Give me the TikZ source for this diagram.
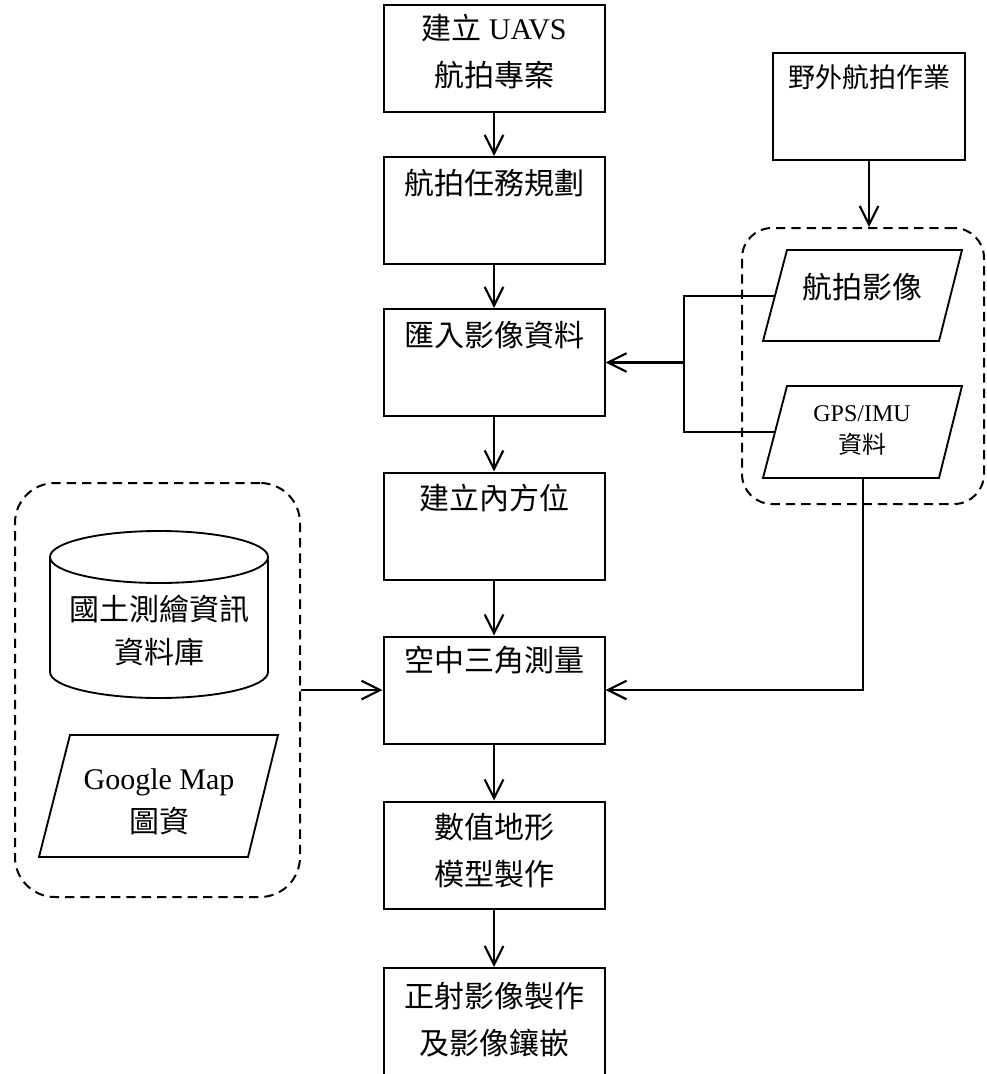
\documentclass[tikz,border=0pt]{standalone}
\usepackage{fontspec}
\setmainfont{Liberation Serif}
\newfontfamily\cjk{Noto Sans CJK TC}
\usetikzlibrary{arrows.meta}
\begin{document}
\begin{tikzpicture}[x=0.75pt,y=-0.75pt,
  box/.style={draw, line width=1.5pt, minimum width=221*0.75pt, minimum height=107*0.75pt, inner sep=0pt},
  arr/.style={line width=1.6pt, -{Straight Barb[length=14pt,width=14pt,line width=1.6pt]}},
  conn/.style={line width=1.6pt},
  grp/.style={draw, dash pattern=on 7pt off 4.5pt, line width=1.5pt, inner sep=0pt},
  shp/.style={draw, line width=1.4pt},
  big/.style={font=\fontsize{22.5pt}{35.25pt}\selectfont, align=center, inner sep=0pt},
  mid/.style={font=\fontsize{22.5pt}{32.25pt}\selectfont, align=center, inner sep=0pt},
  sml/.style={font=\fontsize{18pt}{24pt}\selectfont, align=center, inner sep=0pt},
  fld/.style={font=\fontsize{20.25pt}{30pt}\selectfont, align=center, inner sep=0pt}]
\useasboundingbox (0,0) rectangle (987,1074);

% main column boxes
\node[box] (b1) at (494,58.5) {};
\node[box] (b2) at (494,210.5) {};
\node[box] (b3) at (494,362.5) {};
\node[box] (b4) at (494,526) {};
\node[box] (b5) at (494,690) {};
\node[box] (b6) at (494,855) {};
\node[box, minimum height=112*0.75pt] (b7) at (494,1024) {};

\node[big] (t1) at (494,51.5) {{\cjk 建立} UAVS\\{\cjk 航拍專案}};
\node[big] (t2) at (494,183) {\cjk 航拍任務規劃};
\node[big] (t3) at (494,335) {\cjk 匯入影像資料};
\node[big] (t4) at (494,498) {\cjk 建立內方位};
\node[big] (t5) at (494,660) {\cjk 空中三角測量};
\node[big] (t6) at (494,850.5) {{\cjk 數值地形}\\{\cjk 模型製作}};
\node[big] (t7) at (494,1019.5) {{\cjk 正射影像製作}\\{\cjk 及影像鑲嵌}};

\draw[arr] (b1.south) -- (b2.north);
\draw[arr] (b2.south) -- (b3.north);
\draw[arr] (b3.south) -- (b4.north);
\draw[arr] (b4.south) -- (b5.north);
\draw[arr] (b5.south) -- (b6.north);
\draw[arr] (b6.south) -- (b7.north);

% right side
\node[draw, line width=1.5pt, minimum width=192*0.75pt, minimum height=107*0.75pt, inner sep=0pt] (yw) at (869,106.5) {};
\node[fld] (tyw) at (869,77) {\cjk 野外航拍作業};

\node[grp, rounded corners=22.5pt, minimum width=242*0.75pt, minimum height=276*0.75pt] (rg) at (863,366) {};
\draw[arr] (yw.south) -- (yw.south |- rg.north);

\draw[shp] (763,341) -- (939,341) -- (962,250) -- (787,250) -- cycle;
\node[big] (tp1) at (862,287) {\cjk 航拍影像};
\draw[shp] (763,478) -- (939,478) -- (962,386) -- (787,386) -- cycle;
\node[sml] (tp2) at (862,431) {GPS/IMU\\{\cjk 資料}};

\coordinate (p1w) at (775,296);
\coordinate (p2w) at (775,432);
\coordinate (p2s) at (863,478);
\coordinate (bus) at (684,363);
\draw[conn] (p1w) -- (p1w -| bus) -- (p2w -| bus) -- (p2w);
\draw[arr] (bus |- b3.east) -- (b3.east);
\draw[arr] (p2s) |- (b5.east);

% left group
\node[grp, rounded corners=30pt, minimum width=285*0.75pt, minimum height=414*0.75pt] (lg) at (157.5,690) {};
\draw[shp] (50,557) -- (50,672) arc[start angle=180, end angle=360, x radius=81.75pt, y radius=19.5pt] -- (268,557);
\draw[shp] (159,557) ellipse [x radius=81.75pt, y radius=19.5pt];
\node[mid] (tcyl) at (159,630.5) {{\cjk 國土測繪資訊}\\{\cjk 資料庫}};

\draw[shp] (39,857) -- (248,857) -- (278,735) -- (70,735) -- cycle;
\node[mid] (tgm) at (159,801.5) {Google Map\\{\cjk 圖資}};

\draw[arr] (lg.east) -- (b5.west);
\end{tikzpicture}
\end{document}
